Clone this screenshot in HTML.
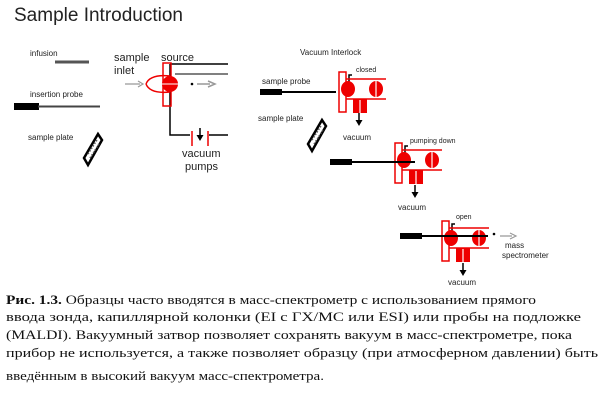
<!DOCTYPE html>
<html><head><meta charset="utf-8"><style>
html,body{margin:0;padding:0;background:#fff;}
svg{display:block;}
.s{font-family:"Liberation Sans",sans-serif;fill:#222;}
.t{font-family:"Liberation Serif","DejaVu Serif",serif;font-size:13px;fill:#111;}
</style></head><body>
<svg width="616" height="410" viewBox="0 0 616 410" xmlns="http://www.w3.org/2000/svg">
<defs>
<g id="asm">
  <rect x="1" y="0" width="7" height="40" fill="none" stroke="#e00" stroke-width="1.5"/>
  <path d="M11,14 V3 H14" fill="none" stroke="#000" stroke-width="1.5"/>
  <line x1="8" y1="7" x2="48" y2="7" stroke="#e00" stroke-width="1.5"/>
  <line x1="8" y1="27" x2="48" y2="27" stroke="#e00" stroke-width="1.5"/>
  <ellipse cx="10" cy="17" rx="7" ry="8" fill="#e00"/>
  <ellipse cx="38" cy="17" rx="7" ry="8" fill="#e00"/>
  <line x1="38" y1="9" x2="38" y2="25" stroke="#fff" stroke-width="1.2"/>
  <rect x="15" y="27" width="14" height="14" fill="#e00"/>
  <line x1="22" y1="28" x2="22" y2="41" stroke="#fff" stroke-width="1.2"/>
</g>
<g id="dn">
  <line x1="0" y1="0" x2="0" y2="8" stroke="#000" stroke-width="1.5"/>
  <path d="M-3.5,7 L3.5,7 L0,13 Z" fill="#000"/>
</g>
</defs>
<text x="14" y="21" class="s" font-size="19" fill="#111">Sample Introduction</text>

<text x="30" y="56" class="s" font-size="8">infusion</text>
<line x1="55" y1="62" x2="89" y2="62" stroke="#555" stroke-width="3"/>
<text x="30" y="97" class="s" font-size="8">insertion probe</text>
<rect x="14" y="103" width="25" height="7" fill="#000"/>
<line x1="38" y1="106.5" x2="100" y2="106.5" stroke="#444" stroke-width="2"/>
<text x="28" y="140" class="s" font-size="8">sample plate</text>
<path d="M84,158 L98,134 L102,140 L88,165 Z" fill="#fff" stroke="#000" stroke-width="2.5"/>
<path d="M88,154 L97,140 M90,158 L99,144" stroke="#555" stroke-width="1.5" stroke-dasharray="1.5 1.5"/>

<text x="114" y="61" class="s" font-size="11">sample</text>
<text x="114" y="74" class="s" font-size="11">inlet</text>
<text x="161" y="61" class="s" font-size="11">source</text>
<path d="M170,64 H228 M170,64 V135 H190 M209,135 H228" fill="none" stroke="#000" stroke-width="1.5"/>
<path d="M175,74 H228" stroke="#000" stroke-width="1"/>
<rect x="163" y="63" width="8" height="43" fill="none" stroke="#e00" stroke-width="1.5"/>
<path d="M146,84 Q150,74 170,76 M146,84 Q150,94 170,92" fill="none" stroke="#e00" stroke-width="1.5"/>
<circle cx="170" cy="84" r="8" fill="#e00"/>
<line x1="162" y1="84" x2="178" y2="84" stroke="#fff" stroke-width="1"/>
<path d="M125,84 H140 M138,81 L143,84 L138,87" fill="none" stroke="#999" stroke-width="1.2"/>
<circle cx="192" cy="84" r="1.3" fill="#000"/>
<path d="M197,84 H210 M208,81 L215,84 L208,87" fill="none" stroke="#999" stroke-width="1.5"/>
<line x1="192" y1="131" x2="192" y2="146" stroke="#e00" stroke-width="1.5"/>
<line x1="208" y1="131" x2="208" y2="146" stroke="#e00" stroke-width="1.5"/>
<use href="#dn" x="200" y="128"/>
<text x="182" y="157" class="s" font-size="11">vacuum</text>
<text x="185" y="170" class="s" font-size="11">pumps</text>

<text x="300" y="55" class="s" font-size="8">Vacuum Interlock</text>
<text x="262" y="84" class="s" font-size="8">sample probe</text>
<rect x="260" y="89" width="22" height="6" fill="#000"/>
<line x1="282" y1="92" x2="336" y2="92" stroke="#000" stroke-width="2"/>
<use href="#asm" x="338" y="72"/>
<text x="356" y="72" class="s" font-size="7">closed</text>
<use href="#dn" x="359" y="113"/>
<text x="343" y="140" class="s" font-size="8">vacuum</text>
<text x="258" y="121" class="s" font-size="8">sample plate</text>
<path d="M308,144 L322,120 L326,126 L312,151 Z" fill="#fff" stroke="#000" stroke-width="2.5"/>
<path d="M312,140 L321,126 M314,144 L323,130" stroke="#555" stroke-width="1.5" stroke-dasharray="1.5 1.5"/>

<use href="#asm" x="394" y="143"/>
<rect x="330" y="159" width="22" height="6" fill="#000"/>
<line x1="352" y1="162" x2="415" y2="162" stroke="#000" stroke-width="2"/>
<text x="410" y="143" class="s" font-size="7">pumping down</text>
<use href="#dn" x="415" y="185"/>
<text x="398" y="210" class="s" font-size="8">vacuum</text>

<use href="#asm" x="441" y="221"/>
<rect x="400" y="233" width="22" height="6" fill="#000"/>
<line x1="422" y1="236" x2="488" y2="236" stroke="#000" stroke-width="2"/>
<text x="456" y="219" class="s" font-size="7">open</text>
<circle cx="494" cy="234" r="1.3" fill="#000"/>
<path d="M500,236 H512 M510,233 L516,236 L510,239" fill="none" stroke="#999" stroke-width="1.2"/>
<text x="505" y="248" class="s" font-size="8">mass</text>
<text x="502" y="258" class="s" font-size="8">spectrometer</text>
<use href="#dn" x="463" y="263"/>
<text x="448" y="285" class="s" font-size="8">vacuum</text>

<text x="6" y="304" class="t" textLength="530" lengthAdjust="spacingAndGlyphs"><tspan font-weight="bold">Рис. 1.3.</tspan> Образцы часто вводятся в масс-спектрометр с использованием прямого</text>
<text x="6" y="321" class="t" textLength="575" lengthAdjust="spacingAndGlyphs">ввода зонда, капиллярной колонки (EI с ГХ/МС или ESI) или пробы на подложке</text>
<text x="6" y="339" class="t" textLength="566" lengthAdjust="spacingAndGlyphs">(MALDI). Вакуумный затвор позволяет сохранять вакуум в масс-спектрометре, пока</text>
<text x="6" y="357" class="t" textLength="592" lengthAdjust="spacingAndGlyphs">прибор не используется, а также позволяет образцу (при атмосферном давлении) быть</text>
<text x="6" y="380" class="t" textLength="318" lengthAdjust="spacingAndGlyphs">введённым в высокий вакуум масс-спектрометра.</text>
</svg>
</body></html>
